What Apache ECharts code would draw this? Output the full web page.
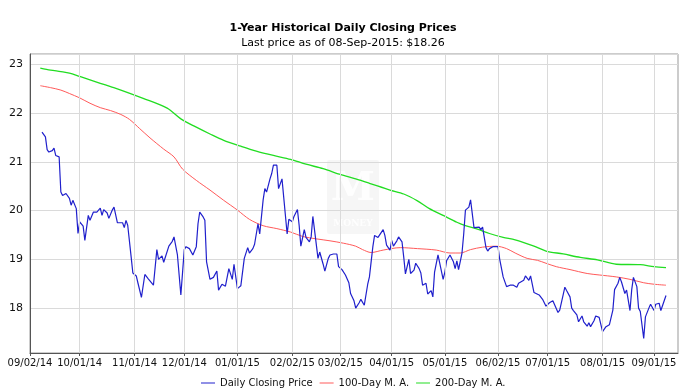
<!DOCTYPE html>
<html><head><meta charset="utf-8">
<script src="https://cdn.jsdelivr.net/npm/echarts@6/dist/echarts.min.js"></script>
<style>html,body{margin:0;padding:0;background:#fff}#c{width:700px;height:390px}</style>
</head><body><div id="c"></div>
<script>
const titleText = '1-Year Historical Daily Closing Prices';
const subtitleText = 'Last price as of 08-Sep-2015: $18.26';
const seriesNames = ['Daily Closing Price', '100-Day M. A.', '200-Day M. A.'];
const axisStart = '2014-09-02';
const axisEnd = '2015-09-15';
const tickDates = ['2014-09-02','2014-10-01','2014-11-02','2014-12-01','2015-01-01','2015-02-02','2015-03-02','2015-04-01','2015-05-02','2015-06-02','2015-07-01','2015-08-02','2015-09-01'];
const tickLabels = ['09/02/14','10/01/14','11/01/14','12/01/14','01/01/15','02/02/15','03/02/15','04/01/15','05/01/15','06/02/15','07/01/15','08/01/15','09/01/15'];

const closeDates = [
'2014-09-09','2014-09-11','2014-09-12','2014-09-13','2014-09-15','2014-09-16','2014-09-17','2014-09-19','2014-09-20','2014-09-21',
'2014-09-23','2014-09-25','2014-09-26','2014-09-27','2014-09-29','2014-09-30','2014-10-01','2014-10-03','2014-10-04','2014-10-06',
'2014-10-07','2014-10-09','2014-10-10','2014-10-11','2014-10-13','2014-10-14','2014-10-15','2014-10-17','2014-10-18','2014-10-20',
'2014-10-21','2014-10-23','2014-10-24','2014-10-26','2014-10-27','2014-10-28','2014-10-29','2014-10-31','2014-11-01','2014-11-03',
'2014-11-04','2014-11-06','2014-11-07','2014-11-08','2014-11-10','2014-11-11','2014-11-13','2014-11-14','2014-11-15','2014-11-16',
'2014-11-18','2014-11-19','2014-11-22','2014-11-24','2014-11-25','2014-11-27','2014-11-29','2014-12-01','2014-12-02','2014-12-04',
'2014-12-05','2014-12-06','2014-12-08','2014-12-09','2014-12-10','2014-12-12','2014-12-13','2014-12-14','2014-12-16','2014-12-18',
'2014-12-20','2014-12-21','2014-12-23','2014-12-25','2014-12-26','2014-12-27','2014-12-29','2014-12-30','2015-01-01','2015-01-03',
'2015-01-05','2015-01-07','2015-01-08','2015-01-10','2015-01-11','2015-01-13','2015-01-14','2015-01-16','2015-01-17','2015-01-18',
'2015-01-20','2015-01-21','2015-01-22','2015-01-24','2015-01-25','2015-01-27','2015-01-28','2015-01-30','2015-01-31','2015-02-02',
'2015-02-03','2015-02-05','2015-02-06','2015-02-07','2015-02-09','2015-02-10','2015-02-12','2015-02-13','2015-02-14','2015-02-15',
'2015-02-17','2015-02-18','2015-02-20','2015-02-21','2015-02-23','2015-02-24','2015-02-26','2015-02-27','2015-02-28','2015-03-01',
'2015-03-03','2015-03-05','2015-03-07','2015-03-08','2015-03-10','2015-03-11','2015-03-13','2015-03-14','2015-03-16','2015-03-18',
'2015-03-19','2015-03-21','2015-03-22','2015-03-24','2015-03-25','2015-03-27','2015-03-28','2015-03-29','2015-03-31','2015-04-01',
'2015-04-02','2015-04-04','2015-04-05','2015-04-07','2015-04-08','2015-04-09','2015-04-11','2015-04-12','2015-04-14','2015-04-15',
'2015-04-17','2015-04-18','2015-04-19','2015-04-21','2015-04-22','2015-04-24','2015-04-25','2015-04-26','2015-04-28','2015-04-29',
'2015-05-01','2015-05-02','2015-05-03','2015-05-05','2015-05-07','2015-05-08','2015-05-09','2015-05-10','2015-05-12','2015-05-13',
'2015-05-14','2015-05-16','2015-05-17','2015-05-19','2015-05-20','2015-05-22','2015-05-23','2015-05-24','2015-05-26','2015-05-27',
'2015-05-28','2015-05-30','2015-06-02','2015-06-03','2015-06-05','2015-06-06','2015-06-07','2015-06-09','2015-06-11','2015-06-13',
'2015-06-14','2015-06-15','2015-06-17','2015-06-18','2015-06-20','2015-06-21','2015-06-23','2015-06-24','2015-06-26','2015-06-27',
'2015-06-28','2015-06-30','2015-07-02','2015-07-04','2015-07-05','2015-07-07','2015-07-08','2015-07-10','2015-07-11','2015-07-12',
'2015-07-14','2015-07-15','2015-07-16','2015-07-18','2015-07-19','2015-07-21','2015-07-22','2015-07-24','2015-07-25','2015-07-26',
'2015-07-28','2015-07-29','2015-07-31','2015-08-01','2015-08-02','2015-08-04','2015-08-06','2015-08-07','2015-08-08','2015-08-09',
'2015-08-11','2015-08-12','2015-08-13','2015-08-15','2015-08-16','2015-08-18','2015-08-19','2015-08-20','2015-08-22','2015-08-23',
'2015-08-24','2015-08-26','2015-08-27','2015-08-29','2015-08-30','2015-09-01','2015-09-02','2015-09-04','2015-09-05','2015-09-06',
'2015-09-08'];
const closePrices = [
21.61,21.51,21.25,21.20,21.23,21.28,21.13,21.10,20.38,20.31,
20.35,20.25,20.11,20.21,20.04,19.53,19.77,19.68,19.39,19.90,
19.80,19.97,19.94,19.97,20.05,19.90,20.02,19.95,19.84,20.01,
20.07,19.75,19.75,19.75,19.65,19.80,19.70,19.05,18.72,18.66,
18.51,18.22,18.22,18.69,18.60,18.57,18.47,18.49,19.20,19.00,
19.07,18.94,19.27,19.37,19.46,19.09,18.27,19.20,19.26,19.22,
19.26,19.09,19.26,19.73,19.97,19.87,19.80,18.95,18.59,18.63,
18.76,18.37,18.49,18.45,18.63,18.81,18.59,18.90,18.40,18.46,
19.02,19.24,19.13,19.22,19.31,19.73,19.52,20.22,20.45,20.38,
20.65,20.76,20.93,20.93,20.45,20.65,20.62,19.52,19.82,19.77,
19.88,20.02,19.70,19.27,19.61,19.45,19.36,19.46,19.88,19.86,
19.02,19.15,18.90,18.76,19.02,19.09,19.11,19.09,19.11,18.85,
18.79,18.68,18.52,18.30,18.15,18.00,18.11,18.18,18.06,18.49,
18.64,19.26,19.49,19.45,19.47,19.61,19.49,19.29,19.19,19.39,
19.27,19.38,19.46,19.36,19.05,18.70,19.00,18.71,18.78,18.92,
18.81,18.72,18.47,18.51,18.29,18.36,18.23,18.74,19.09,19.09,
18.59,18.74,18.97,19.09,18.95,18.81,18.97,18.79,19.13,19.52,
20.01,20.07,20.22,19.65,19.61,19.66,19.61,19.66,19.24,19.17,
19.22,19.26,19.26,19.00,18.64,18.61,18.44,18.47,18.47,18.43,
18.51,18.47,18.57,18.66,18.57,18.66,18.32,18.35,18.27,18.25,
18.18,18.04,18.11,18.15,18.15,17.91,17.96,18.27,18.43,18.36,
18.23,18.00,17.95,17.86,17.72,17.84,17.72,17.63,17.70,17.62,
17.74,17.84,17.81,17.84,17.52,17.62,17.66,17.69,17.96,18.38,
18.51,18.63,18.54,18.30,18.37,17.95,18.38,18.63,18.44,18.00,
17.93,17.38,17.82,18.00,18.08,17.95,18.08,18.10,17.95,17.91,
18.26];

const ma100Dates = ['2014-09-08','2014-09-14','2014-09-20','2014-09-25','2014-10-01','2014-10-07','2014-10-13','2014-10-19','2014-10-25','2014-10-30',
'2014-11-05','2014-11-11','2014-11-19','2014-11-25','2014-11-30','2014-12-08','2014-12-16','2014-12-24','2015-01-01','2015-01-08',
'2015-01-16','2015-01-24','2015-02-01','2015-02-08','2015-02-16','2015-02-24','2015-03-04','2015-03-11','2015-03-15','2015-03-20',
'2015-03-27','2015-04-06','2015-04-16','2015-04-27','2015-05-05','2015-05-11','2015-05-17','2015-05-24','2015-06-01','2015-06-07',
'2015-06-12','2015-06-19','2015-06-25','2015-06-30','2015-07-06','2015-07-14','2015-07-24','2015-07-31','2015-08-10','2015-08-18',
'2015-08-26','2015-09-01','2015-09-08'];
const ma100Values = [22.56,22.52,22.47,22.40,22.31,22.20,22.11,22.05,21.97,21.87,
21.68,21.49,21.26,21.10,20.85,20.62,20.42,20.21,20.01,19.82,
19.69,19.63,19.56,19.47,19.42,19.38,19.33,19.27,19.20,19.14,
19.19,19.24,19.22,19.19,19.13,19.13,19.20,19.25,19.27,19.22,
19.13,19.02,18.98,18.92,18.85,18.79,18.71,18.68,18.64,18.59,
18.52,18.49,18.47];

const ma200Dates = ['2014-09-08','2014-09-14','2014-09-20','2014-09-25','2014-10-01','2014-10-07','2014-10-13','2014-10-19','2014-10-25','2014-11-07',
'2014-11-21','2014-11-29','2014-12-08','2014-12-16','2014-12-24','2015-01-03','2015-01-12','2015-01-22','2015-02-01','2015-02-10',
'2015-02-20','2015-03-02','2015-03-11','2015-03-19','2015-03-31','2015-04-08','2015-04-16','2015-04-23','2015-05-01','2015-05-09',
'2015-05-14','2015-05-21','2015-05-28','2015-06-05','2015-06-12','2015-06-23','2015-06-30','2015-07-10','2015-07-20','2015-07-30',
'2015-08-10','2015-08-24','2015-09-01','2015-09-08'];
const ma200Values = [22.92,22.88,22.85,22.82,22.75,22.68,22.61,22.54,22.47,22.30,
22.10,21.88,21.71,21.57,21.44,21.32,21.22,21.13,21.05,20.95,
20.86,20.74,20.65,20.56,20.42,20.34,20.20,20.04,19.90,19.76,
19.69,19.62,19.53,19.45,19.40,19.27,19.17,19.11,19.04,18.99,
18.90,18.89,18.85,18.83];

function ts(s) { const p = s.split('-').map(Number); return new Date(p[0], p[1] - 1, p[2]).getTime(); }
function pairs(d, v) { return d.map((s, i) => [ts(s), v[i]]); }
const tickTs = tickDates.map(ts);
const labelByTs = {};
tickTs.forEach((t, i) => { labelByTs[t] = tickLabels[i]; });

const FONT = '"DejaVu Sans", sans-serif';
const GRID_COLOR = '#dadada';
const chart = echarts.init(document.getElementById('c'), null, { renderer: 'canvas' });
chart.setOption({
  animation: false,
  backgroundColor: '#fff',
  textStyle: { fontFamily: FONT },
  graphic: [
    { type: 'text', x: 343, y: 28, style: { text: titleText, fill: '#000', font: 'bold 11px ' + FONT, textAlign: 'center', textVerticalAlign: 'middle' } },
    { type: 'text', x: 343, y: 43, style: { text: subtitleText, fill: '#000', font: '11px ' + FONT, textAlign: 'center', textVerticalAlign: 'middle' } },
    { type: 'group', x: 327, y: 160, z: 0, silent: true, children: [
      { type: 'rect', shape: { x: 0, y: 0, width: 52, height: 74, r: 2 }, style: { fill: 'rgba(0,0,0,0.035)' } },
      { type: 'text', x: 26, y: 30, style: { text: 'M', fill: 'rgba(255,255,255,0.9)', font: 'bold 40px "DejaVu Serif", serif', textAlign: 'center', textVerticalAlign: 'middle' } },
      { type: 'text', x: 26, y: 64, style: { text: 'MONEY', fill: 'rgba(255,255,255,0.9)', font: 'bold 9px "DejaVu Serif", serif', textAlign: 'center', textVerticalAlign: 'middle' } }
    ] }
  ],
  grid: { left: 30, right: 22, top: 54, bottom: 37, show: true, borderColor: '#999', borderWidth: 1 },
  legend: {
    left: 201, bottom: 2, padding: 0, icon: 'rect', itemWidth: 14, itemHeight: 1, itemGap: 7,
    textStyle: { fontSize: 10, color: '#111', fontFamily: FONT },
    data: seriesNames
  },
  xAxis: {
    type: 'value', min: ts(axisStart), max: ts(axisEnd),
    axisLine: { show: true, lineStyle: { color: '#555', width: 1 } },
    axisTick: { show: true, customValues: tickTs, length: 3, lineStyle: { color: '#555' } },
    axisLabel: { customValues: tickTs, formatter: v => labelByTs[v] || '', fontSize: 10, color: '#111', margin: 5, hideOverlap: false, fontFamily: FONT },
    splitLine: { show: false }
  },
  yAxis: {
    type: 'value', min: 17.08, max: 23.21,
    axisLine: { show: true, lineStyle: { color: '#555', width: 1 } },
    axisTick: { show: false },
    axisLabel: { formatter: v => (Math.abs(v - Math.round(v)) < 1e-6 ? String(Math.round(v)) : ''), fontSize: 11, color: '#111', margin: 7, fontFamily: FONT, showMinLabel: false, showMaxLabel: false },
    splitLine: { show: true, lineStyle: { color: GRID_COLOR, width: 1 } }
  },
  series: [
    { name: seriesNames[0], type: 'line', data: pairs(closeDates, closePrices), symbol: 'none', lineStyle: { color: '#2020cc', width: 1.2 }, itemStyle: { color: '#2020cc' }, z: 3 },
    { name: seriesNames[1], type: 'line', data: pairs(ma100Dates, ma100Values), symbol: 'none', smooth: 0.3, lineStyle: { color: '#ff5a5a', width: 1 }, itemStyle: { color: '#ff5a5a' }, z: 2 },
    { name: seriesNames[2], type: 'line', data: pairs(ma200Dates, ma200Values), symbol: 'none', smooth: 0.3, lineStyle: { color: '#22dd22', width: 1.3 }, itemStyle: { color: '#22dd22' }, z: 2 },
    { name: 'gridlines', type: 'line', data: [], z: 1, silent: true,
      markLine: { silent: true, symbol: 'none', animation: false, label: { show: false },
        lineStyle: { color: GRID_COLOR, type: 'solid', width: 1 },
        data: tickTs.slice(1).map(t => ({ xAxis: t })) } }
  ]
});
</script>
</body></html>
